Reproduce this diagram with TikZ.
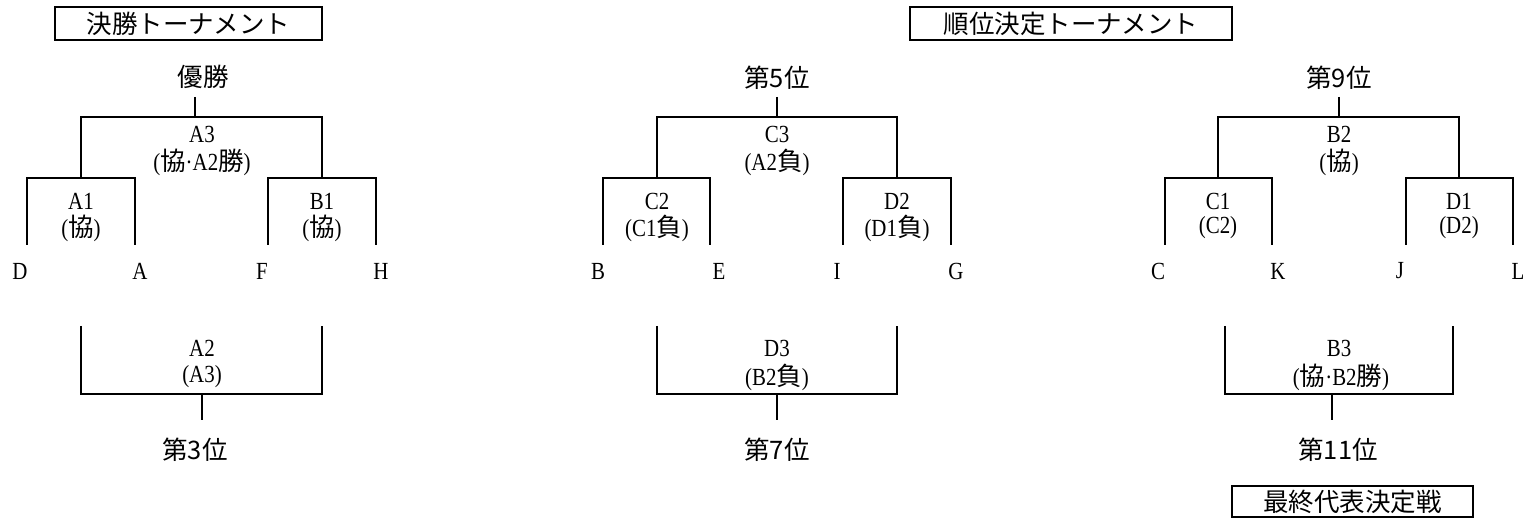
\documentclass[tikz,border=0pt]{standalone}
\usepackage{fontspec}
\setmainfont{Liberation Serif}[FakeStretch=0.85]
\newfontfamily\jpfont{Noto Sans CJK JP}
\newcommand{\jp}[1]{{\jpfont\fontsize{14.5}{17}\selectfont #1}}

\begin{document}
\begin{tikzpicture}[x=0.2mm,y=-0.2mm,line width=1.1pt,
  lbl/.style={font=\fontsize{14}{16}\selectfont,inner sep=0pt},
  titlebox/.style={draw,line width=1.1pt,inner sep=0pt,minimum height=6.6mm}]
\useasboundingbox (0,0) rectangle (1524,518);

% titles
\node[titlebox,minimum width=53.4mm] (ttlmain) at (188.5,23.5) {\jp{決勝トーナメント}};
\node[titlebox,minimum width=64.4mm] (ttlrank) at (1071,23.5) {\jp{順位決定トーナメント}};
\node[titlebox,minimum width=48.2mm,minimum height=6.2mm] (ttlfinal) at (1352.5,501.5) {\jp{最終代表決定戦}};

% 決勝トーナメント
\node[lbl] (win) at (203,77) {\jp{優勝}};
\coordinate (a3s) at (195,97);
\coordinate (a3j) at (195,117);
\node[lbl] (a3) at (202,134) {A3};
\node[lbl] (a3n) at (202,162) {(\jp{協}·A2\jp{勝})};
\coordinate (a1j) at (81,178);
\coordinate (b1j) at (322,178);
\node[lbl] (a1) at (81,201) {A1};
\node[lbl] (a1n) at (81,228) {(\jp{協})};
\node[lbl] (b1) at (322,201) {B1};
\node[lbl] (b1n) at (322,228) {(\jp{協})};
\coordinate (endD) at (27,245);
\coordinate (endA) at (135,245);
\coordinate (endF) at (268,245);
\coordinate (endH) at (376,245);
\node[lbl] (tD) at (20,271) {D};
\node[lbl] (tA) at (140,271) {A};
\node[lbl] (tF) at (262,271) {F};
\node[lbl] (tH) at (381,271) {H};
\draw (a3s) -- (a3j);
\draw (a1j) |- (a3j) -| (b1j);
\draw (endD) |- (a1j) -| (endA);
\draw (endF) |- (b1j) -| (endH);

\coordinate (a2l) at (81,326);
\coordinate (a2r) at (322,326);
\coordinate (a2j) at (202,394);
\coordinate (a2s) at (202,420);
\node[lbl] (a2) at (202,348) {A2};
\node[lbl] (a2n) at (202,377) {(A3)};
\node[lbl] (third) at (195,450) {\jp{第3位}};
\draw (a2l) |- (a2j) -| (a2r);
\draw (a2j) -- (a2s);

% 順位決定トーナメント (5位)
\node[lbl] (fifth) at (777,78) {\jp{第5位}};
\coordinate (c3s) at (777,97);
\coordinate (c3j) at (777,117);
\node[lbl] (c3) at (777,134) {C3};
\node[lbl] (c3n) at (777,162) {(A2\jp{負})};
\coordinate (c2j) at (657,178);
\coordinate (d2j) at (897,178);
\node[lbl] (c2) at (657,201) {C2};
\node[lbl] (c2n) at (657,228) {(C1\jp{負})};
\node[lbl] (d2) at (897,201) {D2};
\node[lbl] (d2n) at (897,228) {(D1\jp{負})};
\coordinate (endB) at (603,245);
\coordinate (endE) at (710,245);
\coordinate (endI) at (843,245);
\coordinate (endG) at (951,245);
\node[lbl] (tB) at (598,271) {B};
\node[lbl] (tE) at (719,271) {E};
\node[lbl] (tI) at (837,271) {I};
\node[lbl] (tG) at (956,271) {G};
\draw (c3s) -- (c3j);
\draw (c2j) |- (c3j) -| (d2j);
\draw (endB) |- (c2j) -| (endE);
\draw (endI) |- (d2j) -| (endG);

\coordinate (d3l) at (657,326);
\coordinate (d3r) at (897,326);
\coordinate (d3j) at (777,394);
\coordinate (d3s) at (777,420);
\node[lbl] (d3) at (777,348) {D3};
\node[lbl] (d3n) at (777,377) {(B2\jp{負})};
\node[lbl] (seventh) at (777,450) {\jp{第7位}};
\draw (d3l) |- (d3j) -| (d3r);
\draw (d3j) -- (d3s);

% 順位決定トーナメント (9位)
\node[lbl] (ninth) at (1339,78) {\jp{第9位}};
\coordinate (b2s) at (1339,97);
\coordinate (b2j) at (1339,117);
\node[lbl] (b2) at (1339,134) {B2};
\node[lbl] (b2n) at (1339,162) {(\jp{協})};
\coordinate (c1j) at (1218,178);
\coordinate (d1j) at (1459,178);
\node[lbl] (c1) at (1218,201) {C1};
\node[lbl] (c1n) at (1218,228) {(C2)};
\node[lbl] (d1) at (1459,201) {D1};
\node[lbl] (d1n) at (1459,228) {(D2)};
\coordinate (endC) at (1165,245);
\coordinate (endK) at (1272,245);
\coordinate (endJ) at (1406,245);
\coordinate (endL) at (1513,245);
\node[lbl] (tC) at (1158,271) {C};
\node[lbl] (tK) at (1278,271) {K};
\node[lbl] (tJ) at (1400,271) {J};
\node[lbl] (tL) at (1518,271) {L};
\draw (b2s) -- (b2j);
\draw (c1j) |- (b2j) -| (d1j);
\draw (endC) |- (c1j) -| (endK);
\draw (endJ) |- (d1j) -| (endL);

\coordinate (b3l) at (1225,326);
\coordinate (b3r) at (1453,326);
\coordinate (b3j) at (1332,394);
\coordinate (b3s) at (1332,420);
\node[lbl] (b3) at (1339,348) {B3};
\node[lbl] (b3n) at (1341,377) {(\jp{協}·B2\jp{勝})};
\node[lbl] (eleventh) at (1338,450) {\jp{第11位}};
\draw (b3l) |- (b3j) -| (b3r);
\draw (b3j) -- (b3s);
\end{tikzpicture}
\end{document}
